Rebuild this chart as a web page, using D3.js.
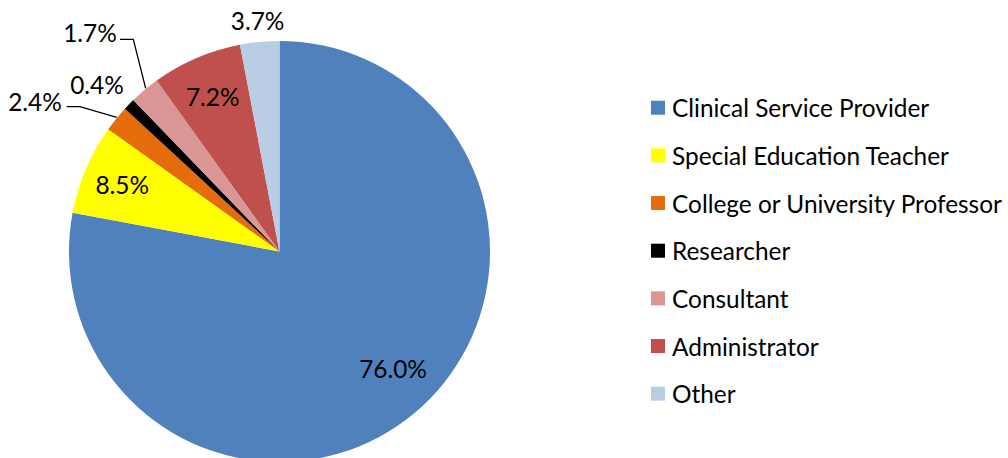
<!DOCTYPE html>
<html><head><meta charset="utf-8">
<script src="https://cdn.jsdelivr.net/npm/d3@7"></script>
<style>body{margin:0;background:#fff}svg{display:block}text{font-family:Lato,"Open Sans",sans-serif;fill:#000}</style>
</head><body><svg id="c" width="1008" height="458"></svg>
<script>
// Data
const categories = ["Clinical Service Provider","Special Education Teacher","College or University Professor","Researcher","Consultant","Administrator","Other"];
const values = [77.8, 6.9, 2.0, 0.9, 2.3, 6.9, 3.0];          // slice sizes as drawn
const labels = ["76.0%","8.5%","2.4%","0.4%","1.7%","7.2%","3.7%"]; // printed data labels
const colors = ["#4F81BD","#FFFF00","#E46C0A","#000000","#D99694","#C0504D","#B9CDE5"];

const svg = d3.select("#c");
const cx = 279.5, cy = 251.5, R = 210.5;
const g = svg.append("g").attr("transform", `translate(${cx},${cy})`);

const pie = d3.pie().sort(null).value(d => d);
const arcs = pie(values);
const arc = d3.arc().innerRadius(0).outerRadius(R);

g.selectAll("path.s").data(arcs).enter().append("path")
  .attr("class","s").attr("d", arc).attr("fill", (d,i) => colors[i]);

const fs = 24.4;
// Label placement (layout, not data)
const inside = {1: 171, 5: 169};
const outside = {6: R + 22};
const manual = {0: [393, 368], 2: [35, 101], 3: [97, 84], 4: [90, 32]};
const leaders = {
  2: [[66.7,106.7],[80,106.7],[116.7,117.3]],
  4: [[120,39.3],[133.3,39.3],[145.7,88.3]]
};
arcs.forEach((a,i) => {
  let x, y;
  if (manual[i]) { x = manual[i][0] - cx; y = manual[i][1] - cy; }
  else {
    const r = inside[i] || outside[i];
    const m = (a.startAngle + a.endAngle) / 2;
    x = r * Math.sin(m); y = -r * Math.cos(m);
  }
  g.append("text").attr("x", x).attr("y", y).attr("text-anchor","middle")
    .attr("dominant-baseline","central").attr("font-size", fs).text(labels[i]);
  if (leaders[i]) {
    g.append("path").attr("d", d3.line()(leaders[i].map(p => [p[0]-cx, p[1]-cy])))
      .attr("fill","none").attr("stroke","#000").attr("stroke-width",1.3);
  }
});

// Legend
const ly = d3.scalePoint().domain(categories).range([107.7, 393.7]);
const lg = svg.append("g");
categories.forEach((c,i) => {
  lg.append("rect").attr("x", 651).attr("y", ly(c) - 7).attr("width", 14).attr("height", 14).attr("fill", colors[i]);
  lg.append("text").attr("x", 672).attr("y", ly(c)).attr("dominant-baseline","central")
    .attr("font-size", fs).text(c);
});
</script></body></html>
